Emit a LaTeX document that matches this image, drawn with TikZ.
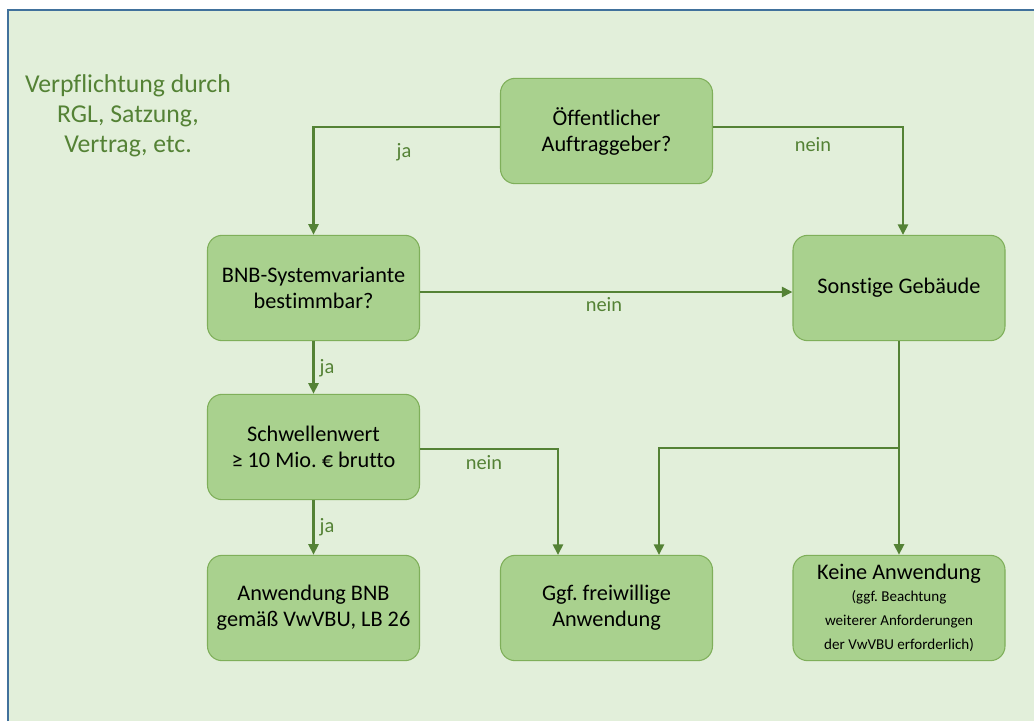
\documentclass[tikz,border=0pt]{standalone}
\usepackage{fontspec}
\setmainfont{Carlito}[Ligatures=NoCommon]
\usetikzlibrary{arrows.meta}
\definecolor{bgGreen}{HTML}{E2EFDA}
\definecolor{boxGreen}{HTML}{A9D18E}
\definecolor{boxLine}{HTML}{7FAF5A}
\definecolor{lineGreen}{HTML}{548235}
\definecolor{frameBlue}{HTML}{41719C}
\newcommand{\smallnote}{\fontsize{11.3}{15.4}\selectfont}
\tikzset{
  decision/.style={draw=boxLine, line width=0.8pt, fill=boxGreen, rounded corners=11pt,
    minimum width=159pt, minimum height=79pt, align=center, font=\fontsize{16.7}{19.5}\selectfont},
  flow/.style={lineGreen, line width=2.2pt, -{Triangle[width=7.5pt,length=8pt]}},
  answer/.style={text=lineGreen, font=\fontsize{15.3}{18}\selectfont}
}
\begin{document}
\begin{tikzpicture}[x=0.75pt,y=-0.75pt]
  \useasboundingbox (0,0) rectangle (1034,721);
  \fill[bgGreen] (8,10) rectangle (1034,721);
  \draw[frameBlue, line width=1.2pt] (8,721) -- (8,10) -- (1034,10);

  \node[text=lineGreen, align=center, font=\fontsize{19.3}{22.5}\selectfont] (duty) at (128,116)
    {Verpflichtung durch\\RGL, Satzung,\\Vertrag, etc.};

  \node[decision] (oeff)   at (606.5,131) {Öffentlicher\\Auftraggeber?};
  \node[decision] (bnb)    at (313.5,288) {BNB-Systemvariante\\bestimmbar?};
  \node[decision] (sonst)  at (899,288)   {Sonstige Gebäude};
  \node[decision] (schw)   at (313.5,447) {Schwellenwert\\≥ 10 Mio.\ € brutto};
  \node[decision] (anw)    at (313.5,608) {Anwendung BNB\\gemäß VwVBU, LB 26};
  \node[decision] (frei)   at (606.5,608) {Ggf.\ freiwillige\\Anwendung};
  \node[decision, inner ysep=0pt] (keine)  at (899,608)
    {Keine Anwendung\\[-3pt]\smallnote (ggf.\ Beachtung\\[-1.5pt]\smallnote weiterer Anforderungen\\[-1.5pt]\smallnote der VwVBU erforderlich)};

  \coordinate (split) at (899,448);

  % Verbindungen
  \draw[flow] (oeff.west |- 0,127) -| (bnb.north);
  \draw[flow] (oeff.east |- 0,127) -| (903,235);
  \draw[flow] (bnb.east |- 0,292) -- (sonst.west |- 0,292);
  \draw[flow] (bnb) -- (schw);
  \draw[flow] (schw.east |- 0,449) -| (558,555);
  \draw[flow] (schw) -- (anw);
  \draw[flow] (sonst) -- (keine);
  \draw[flow] (split) -| (659,555);

  \node[answer] (l1) at (404,152) {ja};
  \node[answer] (l2) at (813,145) {nein};
  \node[answer] (l3) at (604,305) {nein};
  \node[answer] (l4) at (327,368) {ja};
  \node[answer] (l5) at (484,463) {nein};
  \node[answer] (l6) at (327,527) {ja};
\end{tikzpicture}
\end{document}
